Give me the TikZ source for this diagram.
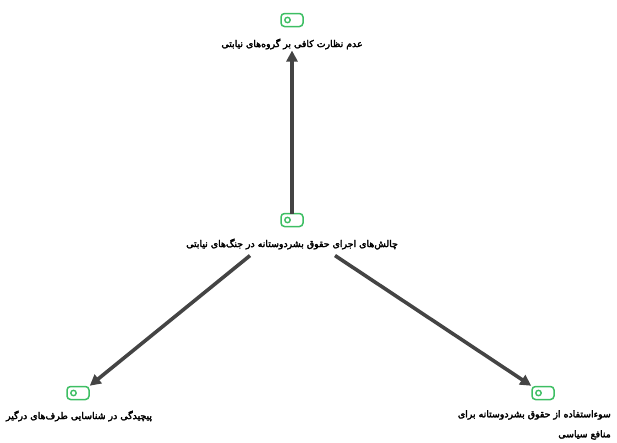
\documentclass[tikz,border=0pt]{standalone}
\usepackage{fontspec}
\newfontfamily\arabicfont[Script=Arabic,FakeBold=3]{DejaVu Sans}
\TeXXeTstate=1
\usetikzlibrary{arrows.meta,calc}
\definecolor{icongreen}{HTML}{3DBE63}
\definecolor{arrowgray}{HTML}{444444}
\tikzset{
  x=1pt,y=1pt,
  toggle/.style={draw=icongreen, line width=1.5pt, rounded corners=3.5pt, minimum width=22pt, minimum height=13pt, inner sep=0pt},
  lbl/.style={font=\arabicfont\fontsize{9.4}{20}\selectfont, inner sep=1pt, align=right},
  arr/.style={draw=arrowgray, line width=3.6pt, -{Triangle[length=11pt,width=11pt]}},
}
\newcommand{\tog}[2]{%
  \node[toggle] (#1) at (#2) {};
  \draw[icongreen, line width=1.4pt] ($(#1.center)+(-4.5,0)$) circle (2.7pt);
}
\begin{document}
\begin{tikzpicture}
\useasboundingbox (0,0) rectangle (617,-442);
\tog{ti}{292,-20}
\node[lbl] (tl) at (292,-44) {\beginR عدم نظارت کافی بر گروه‌های نیابتی\endR};
\tog{ci}{292,-220}
\node[lbl] (cl) at (292,-244) {\beginR چالش‌های اجرای حقوق بشردوستانه در جنگ‌های نیابتی\endR};
\tog{li}{78,-393}
\node[lbl] (ll) at (79,-416) {\beginR پیچیدگی در شناسایی طرف‌های درگیر\endR};
\tog{ri}{543,-393}
\node[lbl, anchor=north east] (rl) at (612,-409) {\beginR سوءاستفاده از حقوق بشردوستانه برای\endR\\\beginR منافع سیاسی\endR};
\coordinate (s1) at ($(cl.south)+(-42,-5)$);
\coordinate (s2) at ($(cl.south)+(43,-5)$);
\draw[arr] (ci.north) ++(0,-1) -- (tl.south);
\draw[arr] (s1) -- (li.north east);
\draw[arr] (s2) -- (ri.north west);
\end{tikzpicture}
\end{document}
